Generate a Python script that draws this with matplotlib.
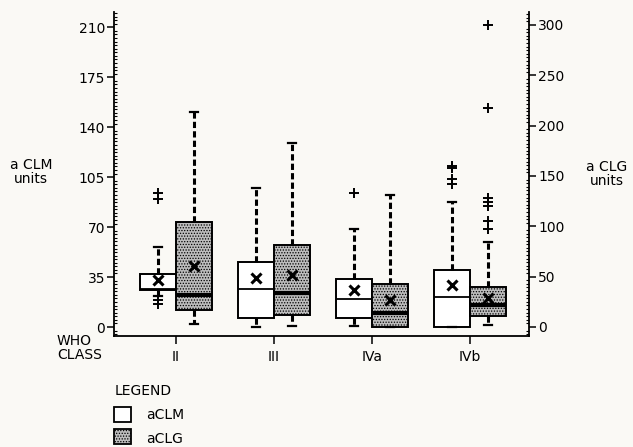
import matplotlib
matplotlib.use("Agg")
import matplotlib.pyplot as plt
from matplotlib.patches import Rectangle
from matplotlib.ticker import MultipleLocator
import numpy as np

plt.rcParams['font.family'] = ['DejaVu Sans']
plt.rcParams['lines.scale_dashes'] = False
plt.rcParams['hatch.linewidth'] = 0.6

# WHO classes
categories = ['II', 'III', 'IVa', 'IVb']

# aCLM (left axis, units)
clm_q1 = [25.9, 6.1, 6.1, 0.0]
clm_med = [26.9, 26.6, 19.4, 21.3]
clm_q3 = [36.9, 45.8, 33.4, 40.0]
clm_lo = [22.0, 0.2, 1.0, 0.0]
clm_hi = [56.3, 97.2, 68.5, 87.6]
clm_mean = [33.2, 34.6, 26.2, 29.2]
clm_out = [[94.0, 89.5, 19.0, 16.0], [], [93.7], [113.0, 111.5, 103.7, 100.2]]

# aCLG (right axis, units)
clg_q1 = [16.5, 11.9, 0.3, 10.5]
clg_med = [31.5, 34.2, 14.0, 22.0]
clg_q3 = [104.0, 81.0, 43.0, 39.5]
clg_lo = [3.0, 0.5, 0.3, 1.5]
clg_hi = [214.0, 183.0, 131.0, 84.7]
clg_mean = [60.9, 51.5, 26.5, 28.8]
clg_out = [[], [], [], [300.0, 218.0, 128.0, 124.0, 120.0, 105.0, 97.0]]


def stats(q1, med, q3, lo, hi, mean, out):
    return [dict(q1=a, med=b, q3=c, whislo=d, whishi=e, mean=f, fliers=g)
            for a, b, c, d, e, f, g in zip(q1, med, q3, lo, hi, mean, out)]


W, H = 633, 447
fig = plt.figure(figsize=(W / 100, H / 100), dpi=100)
bg = '#faf9f5'
fig.patch.set_facecolor(bg)


def fx(x):
    return x / W


def fy(y):
    return 1 - y / H


ax = fig.add_axes([fx(114), fy(336), (529 - 114) / W, (336 - 12) / H])
ax.set_facecolor('none')
ax2 = ax.twinx()

pos = np.arange(1, len(categories) + 1)
bw = 0.37

common = dict(widths=bw, patch_artist=True, showmeans=True, capwidths=0.08,
              manage_ticks=False,
              whiskerprops=dict(color='black', linewidth=2.2, linestyle=(0, (4.5, 2.3))),
              capprops=dict(color='black', linewidth=1.6),
              meanprops=dict(marker='x', markersize=7, markeredgecolor='black',
                             markeredgewidth=2.2),
              flierprops=dict(marker='+', markersize=7, markeredgecolor='black',
                              markeredgewidth=1.4))

ax.bxp(stats(clm_q1, clm_med, clm_q3, clm_lo, clm_hi, clm_mean, clm_out),
       positions=pos - bw / 2,
       boxprops=dict(facecolor='white', edgecolor='black', linewidth=1.4),
       medianprops=dict(color='black', linewidth=1.3), **common)

ax2.bxp(stats(clg_q1, clg_med, clg_q3, clg_lo, clg_hi, clg_mean, clg_out),
        positions=pos + bw / 2,
        boxprops=dict(facecolor='#bdbdbd', edgecolor='black', linewidth=1.4,
                      hatch='......'),
        medianprops=dict(color='black', linewidth=3.0), **common)

# scales
ax.set_xlim(0.367, 4.602)
ax.set_ylim(-6.3, 220.7)
ax2.set_ylim(-8.94, 312.9)

ax.set_xticks(pos)
ax.set_xticklabels(categories)
ax.set_yticks(np.arange(0, 211, 35))
ax.yaxis.set_minor_locator(MultipleLocator(2.5))
ax2.set_yticks(np.arange(0, 301, 50))
ax2.yaxis.set_minor_locator(MultipleLocator(50 / 14))

for a in (ax, ax2):
    a.spines['top'].set_visible(False)
    for s in a.spines.values():
        s.set_linewidth(1.3)
ax.spines['right'].set_visible(False)
ax2.spines['left'].set_visible(False)
ax2.spines['bottom'].set_visible(False)

ax.tick_params(axis='y', which='major', direction='out', length=5, width=1.1,
               pad=1.5, labelsize=10)
ax.tick_params(axis='y', which='minor', direction='in', length=2.5, width=0.8)
ax2.tick_params(axis='y', which='major', direction='out', length=5, width=1.1,
                pad=1.5, labelsize=10)
ax2.tick_params(axis='y', which='minor', direction='in', length=2.5, width=0.8)
ax.tick_params(axis='x', direction='out', length=6, width=1.1, pad=4, labelsize=10)

# axis captions
fig.text(fx(31), fy(172), 'a CLM\nunits', ha='center', va='center',
         fontsize=10, linespacing=1.0)
fig.text(fx(586), fy(174), 'a CLG\nunits', ha='left', va='center',
         fontsize=10, linespacing=1.0, multialignment='center')
fig.text(fx(57), fy(348), 'WHO\nCLASS', ha='left', va='center',
         fontsize=10, linespacing=0.95)

# legend
fig.text(fx(115), fy(391), 'LEGEND', ha='left', va='center', fontsize=10)
fig.add_artist(Rectangle((fx(114), fy(422)), 17 / W, 15 / H, transform=fig.transFigure,
                         facecolor='white', edgecolor='black', linewidth=1.3))
fig.add_artist(Rectangle((fx(114), fy(444)), 17 / W, 15 / H, transform=fig.transFigure,
                         facecolor='#bdbdbd', edgecolor='black', linewidth=1.3,
                         hatch='......'))
fig.text(fx(146), fy(415), 'aCLM', ha='left', va='center', fontsize=10)
fig.text(fx(146), fy(439), 'aCLG', ha='left', va='center', fontsize=10)

fig.savefig('out.png', dpi=100, facecolor=bg)
